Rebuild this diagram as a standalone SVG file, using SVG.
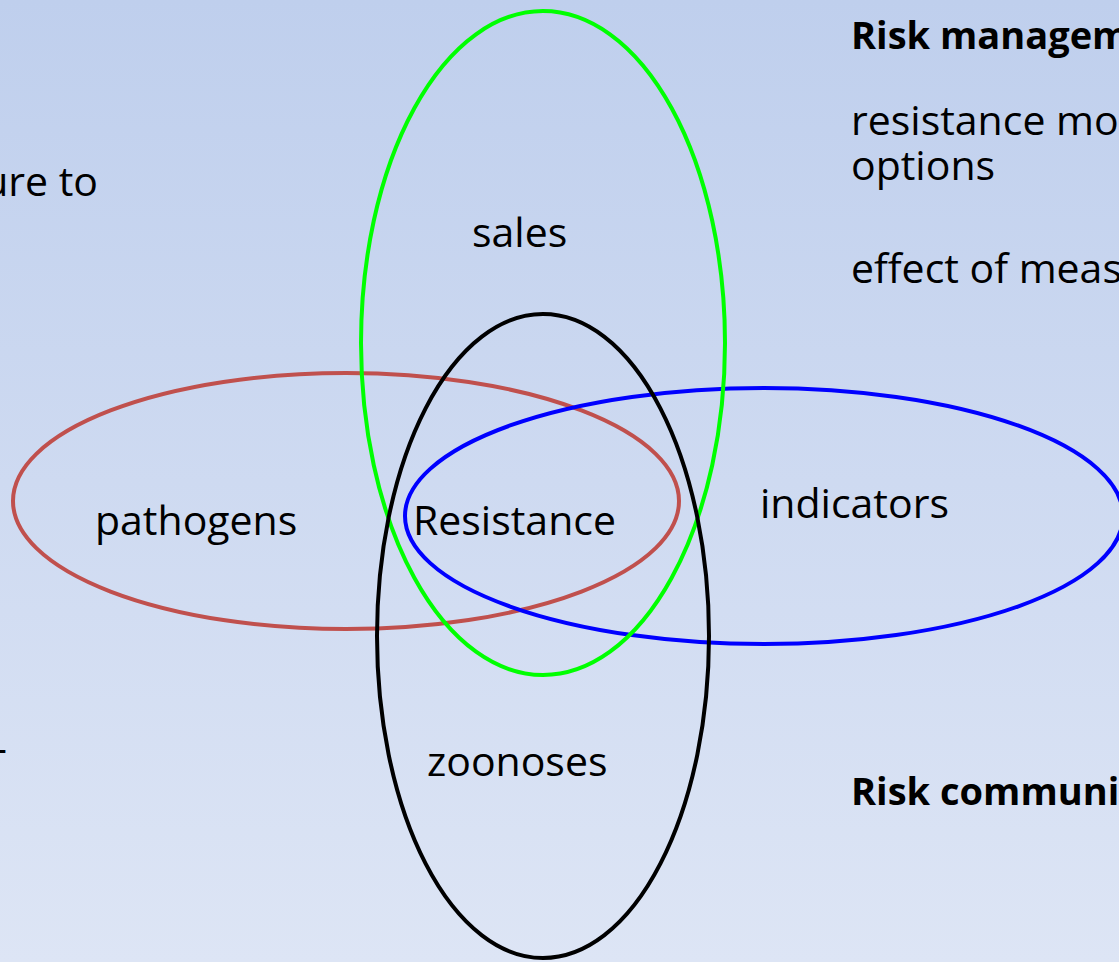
<svg xmlns="http://www.w3.org/2000/svg" width="1119" height="962" viewBox="0 0 1119 962">
  <defs>
    <linearGradient id="bg" x1="0" y1="0" x2="0" y2="1">
      <stop offset="0" stop-color="#bfcfed"/>
      <stop offset="1" stop-color="#dde5f5"/>
    </linearGradient>
  </defs>
  <style>
    .t { font-family: "Open Sans", "Noto Sans", "Liberation Sans", sans-serif; font-size: 41px; fill: #000; }
    .b { font-weight: bold; font-size: 38px; }
    .e { fill: none; stroke-width: 4; }
  </style>
  <rect x="0" y="0" width="1119" height="962" fill="url(#bg)"/>

  <g id="side-text">
    <text class="t" x="98" y="196" text-anchor="end">ure to</text>
    <text class="t" x="7" y="762" text-anchor="end">-</text>
    <text class="t b" x="851" y="49">Risk managem</text>
    <text class="t" x="851" y="135">resistance mo</text>
    <text class="t" x="851" y="180">options</text>
    <text class="t" x="851" y="283">effect of meas</text>
    <text class="t b" x="851" y="805">Risk communi</text>
  </g>

  <g id="pathogens">
    <ellipse class="e" cx="346" cy="501" rx="333" ry="128" stroke="#c0504d"/>
    <text class="t" x="95" y="535">pathogens</text>
  </g>
  <g id="indicators">
    <ellipse class="e" cx="764" cy="516" rx="359" ry="128" stroke="#0000ff"/>
    <text class="t" x="760" y="518">indicators</text>
  </g>
  <g id="sales">
    <ellipse class="e" cx="543" cy="343" rx="182" ry="332" stroke="#00ff00"/>
    <text class="t" x="472" y="247">sales</text>
  </g>
  <g id="zoonoses">
    <ellipse class="e" cx="543" cy="636" rx="166" ry="322" stroke="#000000"/>
    <text class="t" x="427" y="776">zoonoses</text>
  </g>
  <g id="resistance">
    <text class="t" x="413" y="535">Resistance</text>
  </g>
</svg>
